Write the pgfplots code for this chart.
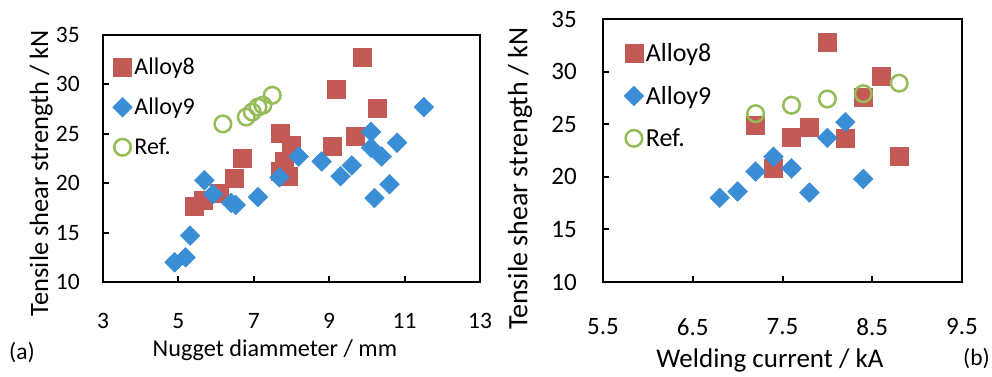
\documentclass[border=0pt]{standalone}
\usepackage{fontspec}
\setmainfont{Carlito}
\usepackage{pgfplots}
\pgfplotsset{compat=1.18}
\definecolor{cRed}{HTML}{C45A56}
\definecolor{cBlue}{HTML}{3A8ED6}
\definecolor{cGreen}{HTML}{94BC57}
\pgfplotsset{
  mystyle/.style={
    scale only axis, anchor=south west,
    ymin=10, ymax=35, ytick={10,15,...,35},
    /pgf/number format/assume math mode=true,
    tick align=inside, tick pos=left,
    major tick length=6pt,
    every tick/.style={black, line width=2pt},
    axis line style={line width=2.2pt},
    font=\fontsize{23.5}{27}\selectfont,
    xticklabel style={anchor=north, inner sep=0pt},
    ylabel={Tensile shear strength / kN},
    legend cell align=left,
    legend style={draw=none, fill=none, anchor=north west,
      font=\fontsize{24}{28}\selectfont, inner sep=0pt,
      /tikz/every even column/.append style={column sep=2pt}},
    clip=false,
  },
  a8/.style={only marks, mark=square*, mark size=9pt, color=cRed, mark options={draw=cRed, fill=cRed}},
  a9/.style={only marks, mark=square*, mark size=7pt, color=cBlue, mark options={rotate=45, draw=cBlue, fill=cBlue}},
  rf/.style={only marks, mark=o, mark size=8.3pt, color=cGreen, mark options={line width=2.5pt, draw=cGreen}},
}
\begin{document}
\begin{tikzpicture}[x=1pt,y=1pt]
\path[use as bounding box] (0,0) rectangle (992,376);
\begin{axis}[mystyle, at={(103pt,94pt)}, width=377pt, height=247pt,
  xmin=3, xmax=13, xtick={3,5,...,13},
  xticklabel style={yshift=-31pt},
  yticklabel style={anchor=east, inner sep=0pt, xshift=-23pt},
  xlabel={Nugget diammeter / mm},
  xlabel style={at={(axis description cs:0.456,0)}, anchor=center, yshift=-68pt, font=\fontsize{24.2}{28}\selectfont},
  ylabel style={at={(axis description cs:-0.164,0.441)}, anchor=center, font=\fontsize{26.5}{30}\selectfont},
  legend style={at={(axis description cs:0.025,0.916)}, row sep=18pt},
]
\addplot[a8] coordinates {
(5.43,17.7) (5.67,18.3) (6.09,19.0) (6.49,20.5) (6.69,22.5)
(7.69,25.1) (8.0,23.8) (7.8,22.2) (7.7,21.2) (7.9,20.7)
(9.08,23.7) (9.18,29.5) (9.7,24.8) (9.87,32.8) (10.27,27.6)};
\addlegendentry{Alloy8}
\addplot[a9] coordinates {
(4.90,12.0) (5.19,12.5) (5.31,14.7) (5.69,20.3) (5.92,18.9)
(6.40,18.0) (6.52,17.8) (7.11,18.6) (7.68,20.6) (8.19,22.7)
(8.80,22.2) (9.30,20.7) (9.60,21.8) (10.11,25.2) (10.11,23.6)
(10.20,18.5) (10.39,22.7) (10.60,19.9) (10.80,24.1) (11.51,27.7)};
\addlegendentry{Alloy9}
\addplot[rf] coordinates {
(6.18,26.0) (6.80,26.7) (6.96,27.2) (7.11,27.7) (7.24,27.9) (7.49,28.9)};
\addlegendentry{Ref.}
\end{axis}
\node[anchor=west, inner sep=0pt, font=\fontsize{23.5}{27}\selectfont] at (9,23) {(a)};
\begin{axis}[mystyle, at={(603pt,94pt)}, width=359pt, height=263pt,
  xmin=5.5, xmax=9.5, xtick={5.5,6.5,...,9.5},
  font=\fontsize{25}{29}\selectfont,
  xticklabel style={yshift=-36pt, /pgf/number format/.cd, fixed, fixed zerofill, precision=1},
  yticklabel style={anchor=east, inner sep=0pt, xshift=-26pt},
  xlabel={Welding current / kA},
  xlabel style={at={(axis description cs:0.465,0)}, anchor=center, yshift=-78pt, font=\fontsize{27}{31}\selectfont},
  ylabel style={at={(axis description cs:-0.231,0.392)}, anchor=center, font=\fontsize{28}{32}\selectfont},
  legend style={at={(axis description cs:0.058,0.915)}, row sep=19pt, font=\fontsize{26}{30}\selectfont},
]
\addplot[a8] coordinates {
(7.2,24.9) (7.4,20.8) (7.6,23.8) (7.8,24.7) (8.0,32.8)
(8.2,23.7) (8.4,27.6) (8.6,29.6) (8.8,22.0)};
\addlegendentry{Alloy8}
\addplot[a9] coordinates {
(6.8,18.0) (7.0,18.6) (7.2,20.5) (7.4,21.9) (7.6,20.8)
(7.8,18.5) (8.0,23.7) (8.2,25.2) (8.4,19.8)};
\addlegendentry{Alloy9}
\addplot[rf] coordinates {
(7.2,26.0) (7.6,26.8) (8.0,27.4) (8.4,27.9) (8.8,28.9)};
\addlegendentry{Ref.}
\end{axis}
\node[anchor=east, inner sep=0pt, font=\fontsize{23.5}{27}\selectfont] at (990,17) {(b)};
\end{tikzpicture}
\end{document}
